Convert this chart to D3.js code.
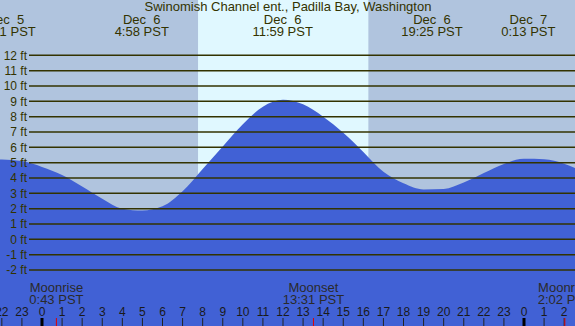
<!DOCTYPE html>
<html><head><meta charset="utf-8">
<script src="https://cdn.jsdelivr.net/npm/d3@7/dist/d3.min.js"></script>
<style>body{margin:0;padding:0;overflow:hidden}svg{display:block}text{font-family:"Liberation Sans",Arial,sans-serif;white-space:pre}</style>
</head><body>
<script>
// hours relative to Dec 6 00:00 PST, heights in ft
const hours = [-3,-2,-1,0,1,2,3,4,5,6,7,8,9,10,11,12,13,14,15,16,17,18,19,20,21,22,23,24,25,26,27];
const heights = [5.0,5.2,5.1,4.72,4.2,3.45,2.65,2.0,1.88,2.15,3.13,4.59,6.05,7.5,8.65,9.1,8.8,8.0,6.95,5.7,4.4,3.65,3.25,3.28,3.7,4.32,4.92,5.25,5.22,4.93,4.35];
const title = "Swinomish Channel ent., Padilla Bay, Washington";
const tideDays = ["Dec  5","Dec  6","Dec  6","Dec  6","Dec  7"];
const tideTimes = ["22:11 PST","4:58 PST","11:59 PST","19:25 PST","0:13 PST"];
const tideHours = [-1.817,4.967,11.983,19.417,24.217];
const moonNames = ["Moonrise","Moonset","Moonrise"];
const moonTimes = ["0:43 PST","13:31 PST","2:02 PST"];
const moonHours = [0.717,13.517,26.033];
const sunrise = 7.77, sunset = 16.25;
const feetTicks = [-2,-1,0,1,2,3,4,5,6,7,8,9,10,11,12];
const hourTicks = [-2,-1,0,1,2,3,4,5,6,7,8,9,10,11,12,13,14,15,16,17,18,19,20,21,22,23,24,25,26];
const hourLabels = ["22","23","0","1","2","3","4","5","6","7","8","9","10","11","12","13","14","15","16","17","18","19","20","21","22","23","0","1","2"];

const W = 575, H = 326;
const svg = d3.select("body").append("svg").attr("width", W).attr("height", H);
const x = d3.scaleLinear().domain([0, 24]).range([42, 524]);
const y = d3.scaleLinear().domain([-2, 12]).range([270, 55.3]);

svg.append("rect").attr("width", W).attr("height", H).attr("fill", "#b0c4de");
svg.append("rect").attr("x", x(sunrise)).attr("width", x(sunset) - x(sunrise)).attr("y", 0).attr("height", H).attr("fill", "#e0f8ff");

const data = hours.map((h, i) => ({t: h, v: heights[i]}));
svg.append("path").datum(data)
  .attr("d", d3.area().x(d => x(d.t)).y0(H).y1(d => y(d.v)).curve(d3.curveMonotoneX))
  .attr("fill", "#4161d5");

const g = svg.append("g");
feetTicks.forEach(f => {
  g.append("line").attr("x1", 29).attr("x2", W).attr("y1", y(f)).attr("y2", y(f))
    .attr("stroke", "#333300").attr("stroke-width", 1.5);
  g.append("text").attr("x", 27).attr("y", y(f)).attr("dy", "0.36em").attr("text-anchor", "end")
    .attr("font-size", 12).attr("fill", "#333300").text(f + " ft");
});

svg.append("text").attr("x", 288).attr("y", 11).attr("text-anchor", "middle").attr("font-size", 13).attr("fill", "#333300").text(title);
tideHours.forEach((t, i) => {
  svg.append("text").attr("x", x(t)).attr("y", 24).attr("text-anchor", "middle").attr("font-size", 13).attr("fill", "#333300").text(tideDays[i]);
  svg.append("text").attr("x", x(t)).attr("y", 36).attr("text-anchor", "middle").attr("font-size", 13).attr("fill", "#333300").text(tideTimes[i]);
});

moonHours.forEach((t, i) => {
  svg.append("text").attr("x", x(t)).attr("y", 292).attr("text-anchor", "middle").attr("font-size", 13).attr("fill", "#2a2a2a").text(moonNames[i]);
  svg.append("text").attr("x", x(t)).attr("y", 304).attr("text-anchor", "middle").attr("font-size", 13).attr("fill", "#2a2a2a").text(moonTimes[i]);
});

hourTicks.forEach((h, i) => {
  svg.append("text").attr("x", x(h)).attr("y", 316).attr("text-anchor", "middle").attr("font-size", 12).attr("fill", "#1a1a1a").text(hourLabels[i]);
  const mid = (h % 24 === 0);
  svg.append("line").attr("x1", x(h)).attr("x2", x(h)).attr("y1", 318).attr("y2", H)
    .attr("stroke", mid ? "#000" : "#222").attr("stroke-width", mid ? 3 : 1);
});
moonHours.forEach(t => {
  svg.append("line").attr("x1", x(t)).attr("x2", x(t)).attr("y1", 318).attr("y2", H).attr("stroke", "#e00000").attr("stroke-width", 1);
});
</script>
</body></html>
